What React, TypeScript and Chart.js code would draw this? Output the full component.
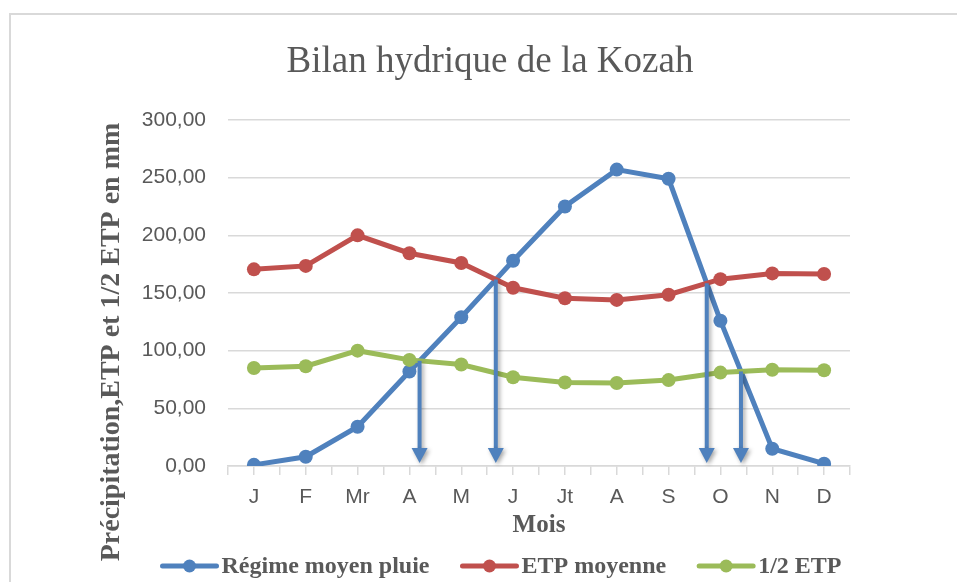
import React, { useEffect, useRef } from "react";
import { Chart, registerables } from "chart.js";
Chart.register(...registerables);

const months = ["J", "F", "Mr", "A", "M", "J", "Jt", "A", "S", "O", "N", "D"];
const pluie = [1, 8, 34, 82, 129, 178, 225, 257, 249, 126, 15, 2];
const etp = [170.5, 173.5, 200, 184.5, 176, 154.5, 145.5, 144, 148.5, 162, 167, 166.5];
const demiEtp = [85, 86.5, 100, 92, 88, 77, 72.5, 72, 74.5, 81, 83.5, 83];
const yMin = 0;
const yMax = 300;
const yStep = 50;

const seriesNames = ["Régime moyen pluie", "ETP moyenne", "1/2 ETP"];
const colors = ["#4f81bd", "#c0504d", "#9bbb59"];
const titleText = "Bilan hydrique de la Kozah";
const yTitle = "Précipitation,ETP et 1/2 ETP en mm";
const xTitle = "Mois";

const GREY = "#595959";
const GRID = "#d9d9d9";

function crossings(a: number[], b: number[]) {
  const out: { x: number; y: number }[] = [];
  for (let i = 0; i < a.length - 1; i++) {
    const d0 = a[i] - b[i];
    const d1 = a[i + 1] - b[i + 1];
    if (d0 === 0 || d0 * d1 < 0) {
      const t = d0 / (d0 - d1);
      out.push({ x: i + t, y: a[i] + (a[i + 1] - a[i]) * t });
    }
  }
  return out;
}

const decorPlugin = {
  id: "decor",
  afterDatasetsDraw(chart: any) {
    const ctx = chart.ctx;
    const xs = chart.scales.x;
    const ys = chart.scales.y;
    const pts = [...crossings(pluie, demiEtp), ...crossings(pluie, etp)];
    const tipY = ys.getPixelForValue(0) - 3;
    pts.forEach((p) => {
      const px = xs.getPixelForValue(p.x);
      const py = ys.getPixelForValue(p.y);
      ctx.save();
      ctx.shadowColor = "rgba(0,0,0,0.35)";
      ctx.shadowBlur = 4;
      ctx.shadowOffsetX = 2;
      ctx.shadowOffsetY = 2;
      ctx.strokeStyle = colors[0];
      ctx.fillStyle = colors[0];
      ctx.lineWidth = 4;
      ctx.beginPath();
      ctx.moveTo(px, py);
      ctx.lineTo(px, tipY - 13);
      ctx.stroke();
      ctx.beginPath();
      ctx.moveTo(px - 8, tipY - 15);
      ctx.lineTo(px + 8, tipY - 15);
      ctx.lineTo(px, tipY);
      ctx.closePath();
      ctx.fill();
      ctx.restore();
    });
  },
  afterDraw(chart: any) {
    const ctx = chart.ctx;
    ctx.save();
    // title
    ctx.fillStyle = GREY;
    ctx.font = '37px "Liberation Serif"';
    ctx.textAlign = "center";
    ctx.textBaseline = "alphabetic";
    ctx.fillText(titleText, 490, 72);
    // y title
    ctx.save();
    ctx.translate(112, 342);
    ctx.rotate(-Math.PI / 2);
    ctx.font = 'bold 28px "Liberation Serif"';
    ctx.textBaseline = "middle";
    ctx.fillText(yTitle, 0, 0);
    ctx.restore();
    // legend
    ctx.font = 'bold 24px "Liberation Serif"';
    const lineLen = 58;
    const gap = 3;
    const between = 31;
    const widths = seriesNames.map((n) => ctx.measureText(n).width);
    const total = widths.reduce((s, w) => s + lineLen + gap + w, 0) + between * (seriesNames.length - 1);
    let x = 501 - total / 2;
    const ly = 566;
    ctx.textAlign = "left";
    ctx.textBaseline = "middle";
    seriesNames.forEach((n, i) => {
      ctx.strokeStyle = colors[i];
      ctx.fillStyle = colors[i];
      ctx.lineWidth = 5;
      ctx.lineCap = "round";
      ctx.beginPath();
      ctx.moveTo(x + 2, ly);
      ctx.lineTo(x + lineLen - 2, ly);
      ctx.stroke();
      ctx.beginPath();
      ctx.arc(x + lineLen / 2, ly, 6.5, 0, Math.PI * 2);
      ctx.fill();
      ctx.fillStyle = GREY;
      ctx.fillText(n, x + lineLen + gap, ly + 1);
      x += lineLen + gap + widths[i] + between;
    });
    ctx.restore();
  },
};

export default function App() {
  const ref = useRef<HTMLCanvasElement>(null);
  useEffect(() => {
    if (!ref.current) return;
    const series = [pluie, etp, demiEtp];
    const chart = new Chart(ref.current, {
      type: "line",
      data: {
        datasets: series.map((arr, i) => ({
          label: seriesNames[i],
          data: arr.map((v, k) => ({ x: k, y: v })),
          borderColor: colors[i],
          backgroundColor: colors[i],
          borderWidth: 5,
          pointRadius: 7,
          pointBorderWidth: 0,
          pointBackgroundColor: colors[i],
          tension: 0,
          order: 2 - i,
        })),
      },
      options: {
        responsive: false,
        animation: false,
        layout: { padding: { left: 0, right: 107, top: 120, bottom: 41 } },
        plugins: {
          legend: { display: false },
          title: { display: false },
          tooltip: { enabled: false },
        },
        scales: {
          x: {
            type: "linear",
            min: -0.5,
            max: months.length - 0.5,
            afterBuildTicks: (scale: any) => {
              const t = [];
              for (let v = -0.5; v <= months.length - 0.5 + 1e-9; v += 0.5) t.push({ value: v });
              scale.ticks = t;
            },
            afterFit: (scale: any) => {
              scale.height = 75;
            },
            grid: {
              drawOnChartArea: false,
              drawTicks: true,
              tickLength: 9,
              color: GRID,
              lineWidth: 1.5,
            },
            border: { display: true, color: GRID, width: 1.5 },
            ticks: {
              autoSkip: false,
              maxRotation: 0,
              padding: 10,
              color: GREY,
              font: { family: '"Liberation Sans"', size: 21 },
              callback: (v: any) => {
                const n = Number(v);
                return Number.isInteger(n) && months[n] !== undefined ? months[n] : "";
              },
            },
            title: {
              display: true,
              text: xTitle,
              color: GREY,
              padding: { top: 0, bottom: 0 },
              font: { family: '"Liberation Serif"', size: 25, weight: "bold" },
            },
          },
          y: {
            min: yMin,
            max: yMax,
            afterFit: (scale: any) => {
              scale.width = 228;
            },
            grid: { color: GRID, lineWidth: 1.5, drawTicks: false },
            border: { display: false },
            ticks: {
              stepSize: yStep,
              padding: 22,
              color: GREY,
              font: { family: '"Liberation Sans"', size: 21 },
              callback: (v: any) => Number(v).toFixed(2).replace(".", ","),
            },
          },
        },
      },
      plugins: [decorPlugin],
    } as any);
    return () => chart.destroy();
  }, []);
  return (
    <div style={{ position: "fixed", left: 0, top: 0, width: 957, height: 582, overflow: "hidden", background: "#fff" }}>
      <div
        style={{
          position: "absolute",
          left: 9,
          top: 13,
          width: 1200,
          height: 800,
          border: `2px solid ${GRID}`,
          boxSizing: "border-box",
        }}
      />
      <canvas ref={ref} width={957} height={582} style={{ position: "absolute", left: 0, top: 0 }} />
    </div>
  );
}
